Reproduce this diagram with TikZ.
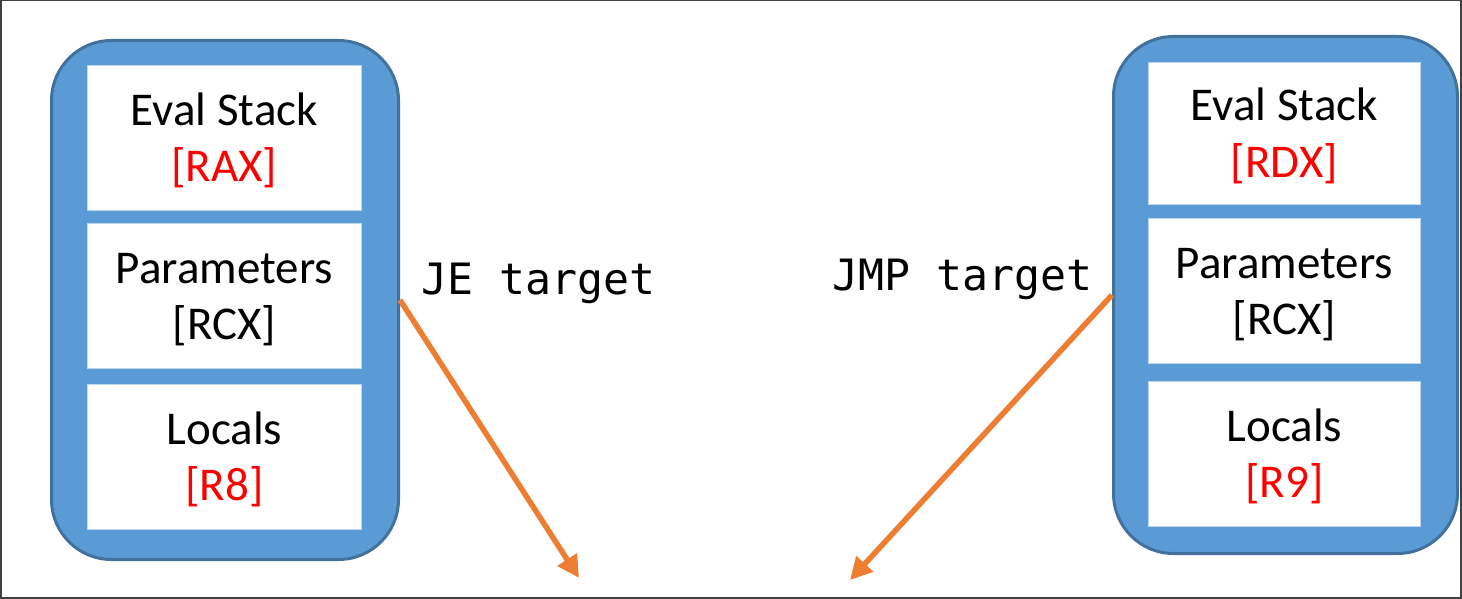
\documentclass[tikz,border=0pt]{standalone}
\usepackage{fontspec}
\setmainfont{Carlito}
\newfontfamily\codefont{DejaVu Sans Mono}
\usetikzlibrary{arrows.meta}
\definecolor{boxblue}{HTML}{5B9BD5}
\definecolor{boxedge}{HTML}{41719C}
\definecolor{celledge}{HTML}{BDD7EE}
\definecolor{arrorange}{HTML}{ED7D31}
\definecolor{regred}{HTML}{FF0000}
\definecolor{framegray}{HTML}{404040}
\newcommand{\topstrut}{\rule{0pt}{20pt}}
\newcommand{\botstrut}{\rule[-4.25pt]{0pt}{4.25pt}}
\begin{document}
\begin{tikzpicture}[x=0.5pt,y=-0.5pt,
  container/.style={rectangle, draw=boxedge, line width=1.5pt, fill=boxblue,
    rounded corners=30pt, anchor=north west, inner sep=0pt},
  cell/.style={rectangle, fill=white, draw=celledge, line width=0.4pt,
    anchor=north west, inner sep=0pt, minimum height=72.5pt, align=center,
    font=\fontsize{23.5}{28.25}\selectfont},
  code/.style={anchor=base west, inner sep=0pt,
    font=\codefont\fontsize{21.6}{26}\selectfont},
  jump/.style={draw=arrorange, line width=2.75pt,
    -{Triangle[length=11pt,width=11pt]}}]
\useasboundingbox (0,0) rectangle (1462,599);
\draw[framegray, line width=1pt] (0.5,0.5) rectangle (1461,598);
% left frame
\node[container, minimum width=173.5pt, minimum height=259.5pt] (L) at (50,39) {};
\node[cell, minimum width=137pt] (L1) at (87,65) {\topstrut Eval Stack\\\textcolor{regred}{[RAX]}\botstrut};
\node[cell, minimum width=137pt] (L2) at (87,223) {\topstrut Parameters\\{}[RCX]\botstrut};
\node[cell, minimum width=137pt] (L3) at (87,384) {\topstrut Locals\\\textcolor{regred}{[R8]}\botstrut};
% right frame
\node[container, minimum width=172pt, minimum height=258.5pt] (R) at (1112,35) {};
\node[cell, minimum width=136pt, minimum height=71pt] (R1) at (1148,62) {\topstrut Eval Stack\\\textcolor{regred}{[RDX]}\botstrut};
\node[cell, minimum width=136pt] (R2) at (1148,218) {\topstrut Parameters\\{}[RCX]\botstrut};
\node[cell, minimum width=136pt] (R3) at (1148,381) {\topstrut Locals\\\textcolor{regred}{[R9]}\botstrut};
% labels
\node[code] (je) at (421,294) {JE target};
\node[code] (jmp) at (832,290) {JMP target};
% arrows
\coordinate (jeT) at (579,578);
\coordinate (jmpT) at (850,580);
\draw[jump] (L.east) -- (jeT);
\draw[jump] (R.west) -- (jmpT);
\end{tikzpicture}
\end{document}
